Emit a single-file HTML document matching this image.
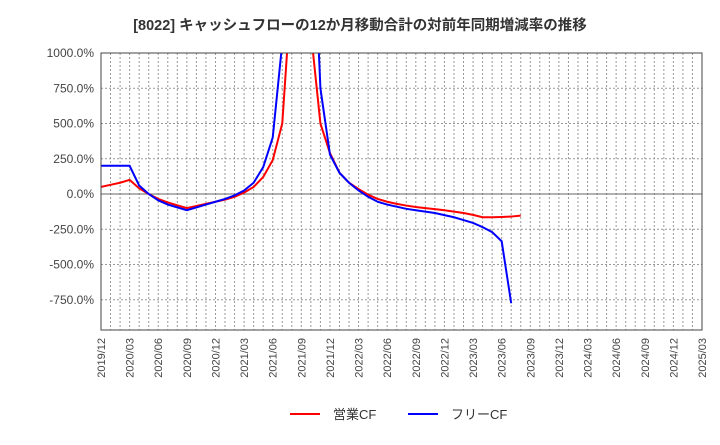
<!DOCTYPE html>
<html><head><meta charset="utf-8">
<style>
body{margin:0;background:#fff;font-family:"Liberation Sans","Noto Sans CJK JP",sans-serif;}
svg text{font-family:"Liberation Sans","Noto Sans CJK JP",sans-serif;}
</style></head>
<body>
<svg id="chart" width="720" height="440">
<text x="360" y="30" text-anchor="middle" font-size="14.5" font-weight="bold" fill="#333">[8022]  キャッシュフローの12か月移動合計の対前年同期増減率の推移</text>
<defs><clipPath id="pc"><rect x="101" y="53" width="601" height="277"/></clipPath></defs>
<g id="grid"></g>
<g id="series" clip-path="url(#pc)"></g>
<g id="axes"></g>
<g>
<line x1="290" y1="414" x2="320" y2="414" stroke="#f00" stroke-width="2"/>
<text x="333" y="419" font-size="13" fill="#333">営業CF</text>
<line x1="408" y1="414" x2="438" y2="414" stroke="#00f" stroke-width="2"/>
<text x="451" y="419" font-size="13" fill="#333">フリーCF</text>
</g>
</svg>
<script>
const xTickLabels=["2019/12","2020/03","2020/06","2020/09","2020/12","2021/03","2021/06","2021/09","2021/12","2022/03","2022/06","2022/09","2022/12","2023/03","2023/06","2023/09","2023/12","2024/03","2024/06","2024/09","2024/12","2025/03"];
const yTicks=[1000,750,500,250,0,-250,-500,-750];
const operatingCF=[50,65,80,100,40,0,-35,-60,-80,-100,-85,-70,-55,-40,-20,10,50,120,240,500,1500,2500,1150,500,290,150,80,35,-5,-35,-55,-70,-82,-92,-100,-107,-115,-125,-135,-148,-165,-165,-163,-160,-153];
const freeCF=[200,200,200,200,60,0,-45,-75,-95,-115,-95,-75,-55,-35,-10,25,80,190,400,1070,3000,3000,2300,750,280,150,80,25,-20,-55,-75,-90,-105,-115,-125,-135,-150,-165,-185,-205,-235,-270,-335,-775];
const X0=101,X1=702,Y0=53,Y1=330,Z=194,PPM=(702-101)/63;
const x=i=>X0+i*PPM, y=v=>Z-v*0.141;
const NS="http://www.w3.org/2000/svg";
const grid=document.getElementById('grid'),axes=document.getElementById('axes'),ser=document.getElementById('series');
function mk(tag,attrs,parent){const e=document.createElementNS(NS,tag);for(const k in attrs)e.setAttribute(k,attrs[k]);parent.appendChild(e);return e;}
for(let m=1;m<63;m++){const l=mk('line',{x1:x(m),x2:x(m),y1:Y0,y2:Y1,stroke:'#999','stroke-dasharray':'2,2','stroke-width':1},grid);

}
yTicks.forEach(v=>{const l=mk('line',{x1:X0,x2:X1,y1:y(v),y2:y(v),stroke:v===0?'#666':'#999','stroke-dasharray':v===0?'':'2,2','stroke-width':1},grid);


const t=mk('text',{x:94,y:y(v)+4,'text-anchor':'end','font-size':12,fill:'#444'},axes);t.textContent=v.toFixed(1)+'%';

});
xTickLabels.forEach((s,i)=>{const xx=x(i*3);const t=mk('text',{x:xx+4,y:338,'text-anchor':'end','font-size':11,fill:'#444',transform:`rotate(-90 ${xx+4} 338)`},axes);t.textContent=s;

});
const fr=mk('rect',{x:X0,y:Y0,width:X1-X0,height:Y1-Y0,fill:'none',stroke:'#444','stroke-width':1},axes);


function line(d,c,n){const p=mk('polyline',{points:d.map((v,i)=>x(i)+','+y(v)).join(' '),fill:'none',stroke:c,'stroke-width':2},ser);

}
line(operatingCF,'#f00','operating-cf-line');
line(freeCF,'#00f','free-cf-line');
</script>
</body></html>
